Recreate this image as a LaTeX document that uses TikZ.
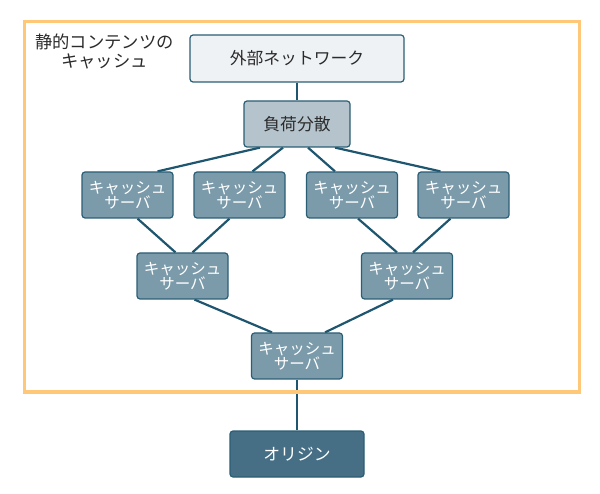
\documentclass[tikz,border=0pt]{standalone}
\usepackage{fontspec}
\setmainfont{Noto Sans CJK JP}
\usetikzlibrary{backgrounds}
\definecolor{frameor}{HTML}{FFC878}
\definecolor{edgec}{HTML}{1E5670}
\definecolor{bord}{HTML}{2A5E74}
\definecolor{extfill}{HTML}{EEF2F5}
\definecolor{lbfill}{HTML}{B5C4CC}
\definecolor{cachefill}{HTML}{7B9BAB}
\definecolor{origfill}{HTML}{466F85}
\definecolor{txtdark}{HTML}{2B2B2B}
\tikzset{
  box/.style={draw=bord, line width=1.2pt, rounded corners=3pt, align=center, inner sep=0pt},
  extbox/.style={box, fill=extfill, text=txtdark, minimum width=214pt, minimum height=47pt, font=\fontsize{16.8}{18}\selectfont},
  lbbox/.style={box, fill=lbfill, text=txtdark, minimum width=106pt, minimum height=46pt, font=\fontsize{16.8}{18}\selectfont},
  cachebox/.style={box, fill=cachefill, text=white, minimum width=91pt, minimum height=46pt, font=\fontsize{15.5}{13.5}\selectfont},
  origbox/.style={box, fill=origfill, text=white, minimum width=134pt, minimum height=46pt, font=\fontsize{16.8}{18}\selectfont},
  link/.style={draw=edgec, line width=2.2pt},
}
\begin{document}
\begin{tikzpicture}[x=1pt,y=-1pt]
\useasboundingbox (0,0) rectangle (600,494);
\draw[frameor, line width=3pt] (24,22) rectangle (579,392);
\node[align=center, text=txtdark, font=\fontsize{17.3}{19}\selectfont] (lbl) at (104.5,51) {静的コンテンツの\\キャッシュ};
\node[extbox] (ext) at (297,58.5) {外部ネットワーク};
\node[lbbox] (lb) at (297,124) {負荷分散};
\node[cachebox] (c1) at (127.5,195) {キャッシュ\\サーバ};
\node[cachebox] (c2) at (239.5,195) {キャッシュ\\サーバ};
\node[cachebox] (c3) at (352,195) {キャッシュ\\サーバ};
\node[cachebox] (c4) at (463.5,195) {キャッシュ\\サーバ};
\node[cachebox] (c5) at (182.5,276) {キャッシュ\\サーバ};
\node[cachebox] (c6) at (407,276) {キャッシュ\\サーバ};
\node[cachebox] (c7) at (297,356) {キャッシュ\\サーバ};
\node[origbox] (orig) at (297,454) {オリジン};
\begin{pgfonlayer}{background}
\draw[link] (ext.south) -- (lb.north);
\draw[link] ([xshift=-37pt]lb.south) -- ([xshift=30pt]c1.north);
\draw[link] ([xshift=-14pt]lb.south) -- ([xshift=13pt]c2.north);
\draw[link] ([xshift=11pt]lb.south) -- ([xshift=-17pt]c3.north);
\draw[link] ([xshift=38pt]lb.south) -- ([xshift=-23pt]c4.north);
\draw[link] ([xshift=10pt]c1.south) -- ([xshift=-7pt]c5.north);
\draw[link] ([xshift=-10pt]c2.south) -- ([xshift=10pt]c5.north);
\draw[link] ([xshift=6pt]c3.south) -- ([xshift=-10pt]c6.north);
\draw[link] ([xshift=-13pt]c4.south) -- ([xshift=6pt]c6.north);
\draw[link] ([xshift=12pt]c5.south) -- ([xshift=-25pt]c7.north);
\draw[link] ([xshift=-14pt]c6.south) -- ([xshift=28pt]c7.north);
\draw[link] (c7.south) -- (orig.north);
\end{pgfonlayer}
\end{tikzpicture}
\end{document}
